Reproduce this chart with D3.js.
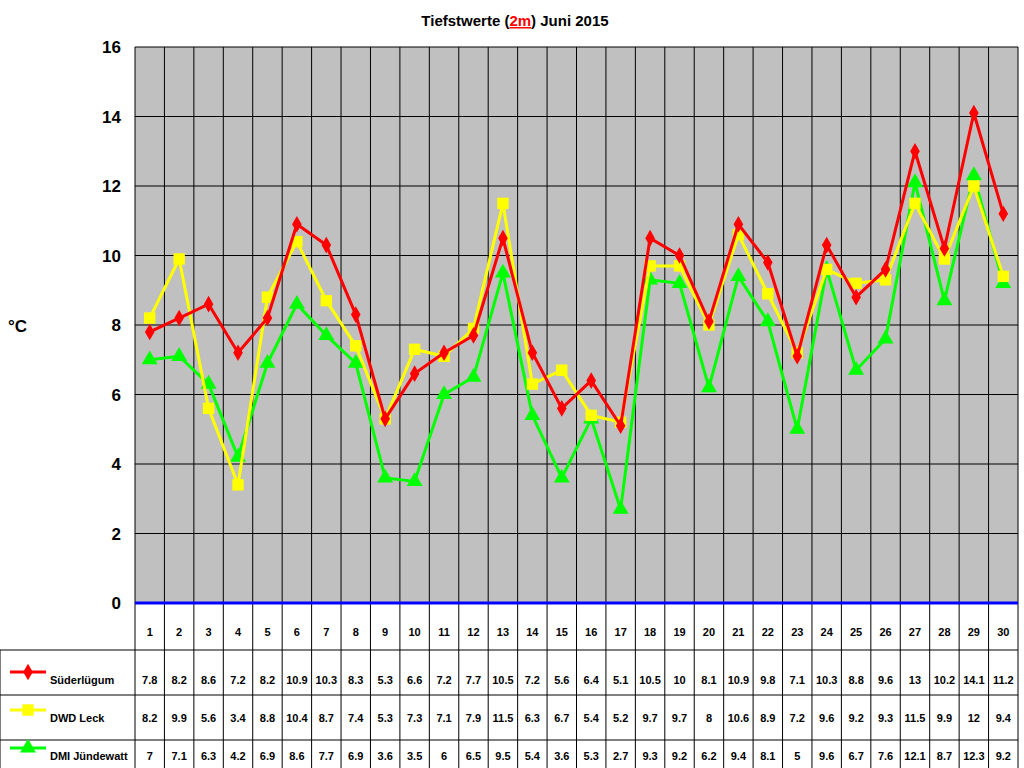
<!DOCTYPE html>
<html><head><meta charset="utf-8">
<script src="https://cdn.jsdelivr.net/npm/d3@7"></script>
<style>body{margin:0;background:#fff;font-family:Arial,"Liberation Sans",sans-serif}</style>
</head><body><svg id="c" width="1024" height="768"></svg>
<script>
var days = d3.range(1, 31);
var suederluegum = [7.8,8.2,8.6,7.2,8.2,10.9,10.3,8.3,5.3,6.6,7.2,7.7,10.5,7.2,5.6,6.4,5.1,10.5,10,8.1,10.9,9.8,7.1,10.3,8.8,9.6,13,10.2,14.1,11.2];
var dwdLeck = [8.2,9.9,5.6,3.4,8.8,10.4,8.7,7.4,5.3,7.3,7.1,7.9,11.5,6.3,6.7,5.4,5.2,9.7,9.7,8,10.6,8.9,7.2,9.6,9.2,9.3,11.5,9.9,12,9.4];
var dmiJuendewatt = [7,7.1,6.3,4.2,6.9,8.6,7.7,6.9,3.6,3.5,6,6.5,9.5,5.4,3.6,5.3,2.7,9.3,9.2,6.2,9.4,8.1,5,9.6,6.7,7.6,12.1,8.7,12.3,9.2];
var yTicks = [0,2,4,6,8,10,12,14,16];

var series = [
  {name:'DMI Jündewatt', values:dmiJuendewatt, color:'#00ff00', shape:d3.symbolTriangle, size:110},
  {name:'DWD Leck', values:dwdLeck, color:'#ffff00', shape:d3.symbolSquare, size:130},
  {name:'Süderlügum', values:suederluegum, color:'#ff0000', shape:d3.symbolDiamond, size:80}
];
var tableRows = [series[2], series[1], series[0]];

var svg = d3.select('#c');
var L = 135, R = 1018, T = 47, B = 603;
var x = d3.scaleBand().domain(days).range([L, R]);
var y = d3.scaleLinear().domain([0, 16]).range([B, T]);

// title
var title = svg.append('text').attr('x', 515).attr('y', 26).attr('text-anchor', 'middle')
  .attr('font-size', 15).attr('font-weight', 'bold');
title.append('tspan').text('Tiefstwerte (');
title.append('tspan').attr('fill', '#ff0000').attr('text-decoration', 'underline').text('2m');
title.append('tspan').text(') Juni 2015');

// plot background
svg.append('rect').attr('x', L).attr('y', T).attr('width', R - L).attr('height', B - T).attr('fill', '#c0c0c0');

// gridlines
svg.selectAll('.hg').data(yTicks).enter().append('line')
  .attr('x1', L).attr('x2', R).attr('y1', function(d) { return y(d); }).attr('y2', function(d) { return y(d); })
  .attr('stroke', '#000').attr('stroke-width', 1);
svg.selectAll('.vg').data(days).enter().append('line')
  .attr('x1', function(d) { return x(d) + x.bandwidth(); }).attr('x2', function(d) { return x(d) + x.bandwidth(); })
  .attr('y1', T).attr('y2', 768).attr('stroke', '#000');
svg.append('line').attr('x1', L).attr('x2', L).attr('y1', T).attr('y2', 768).attr('stroke', '#000');

// y labels
svg.selectAll('.yl').data(yTicks).enter().append('text')
  .attr('x', 121).attr('y', function(d) { return y(d) + 6; }).attr('text-anchor', 'end')
  .attr('font-size', 17).attr('font-weight', 'bold').text(function(d) { return d; });
svg.append('text').attr('x', 8).attr('y', 332).attr('font-size', 17).attr('font-weight', 'bold').text('°C');

// zero line
svg.append('line').attr('x1', L).attr('x2', R).attr('y1', y(0)).attr('y2', y(0)).attr('stroke', '#0000ff').attr('stroke-width', 3);

// table
var rowLines = [650, 695, 740];
svg.selectAll('.rl').data(rowLines).enter().append('line')
  .attr('x1', 0).attr('x2', R).attr('y1', function(d) { return d; }).attr('y2', function(d) { return d; }).attr('stroke', '#000');
svg.append('line').attr('x1', 0).attr('x2', 0).attr('y1', 650).attr('y2', 768).attr('stroke', '#000');
svg.selectAll('.dn').data(days).enter().append('text')
  .attr('x', function(d) { return x(d) + x.bandwidth() / 2; }).attr('y', 636).attr('text-anchor', 'middle')
  .attr('font-size', 11).attr('font-weight', 'bold').text(function(d) { return d; });

var rowText = [684, 722, 760];
var line = d3.line().x(function(d, i) { return x(days[i]) + x.bandwidth() / 2; }).y(function(d) { return y(d); });

tableRows.forEach(function(s, r) {
  svg.selectAll('.tv' + r).data(s.values).enter().append('text')
    .attr('x', function(d, i) { return x(days[i]) + x.bandwidth() / 2; }).attr('y', rowText[r])
    .attr('text-anchor', 'middle').attr('font-size', 11).attr('font-weight', 'bold').text(function(d) { return d; });
  var ly = rowText[r] - 12;
  svg.append('line').attr('x1', 10).attr('x2', 46).attr('y1', ly).attr('y2', ly).attr('stroke', s.color).attr('stroke-width', 3);
  svg.append('path').attr('d', d3.symbol().type(s.shape).size(s.size)()).attr('transform', 'translate(28,' + ly + ')').attr('fill', s.color);
  svg.append('text').attr('x', 50).attr('y', rowText[r]).attr('font-size', 11).attr('font-weight', 'bold').text(s.name);
});

// series
series.forEach(function(s) {
  svg.append('path').datum(s.values).attr('d', line).attr('fill', 'none').attr('stroke', s.color).attr('stroke-width', 3);
  svg.selectAll(null).data(s.values).enter().append('path')
    .attr('d', d3.symbol().type(s.shape).size(s.size)())
    .attr('transform', function(d, i) { return 'translate(' + (x(days[i]) + x.bandwidth() / 2) + ',' + y(d) + ')'; })
    .attr('fill', s.color);
});
</script></body></html>
